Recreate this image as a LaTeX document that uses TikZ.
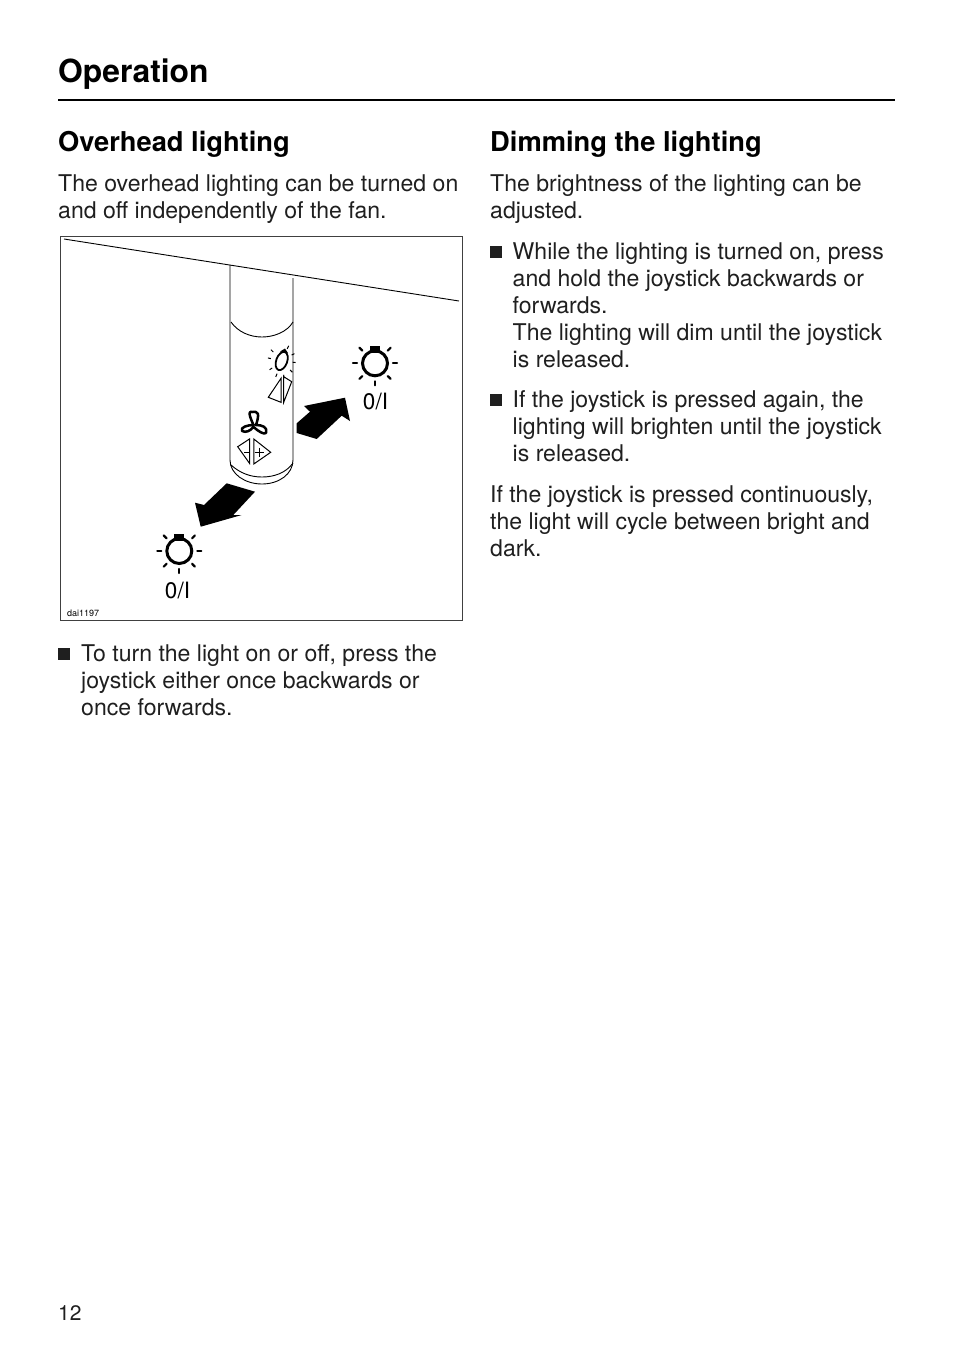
\documentclass[tikz,border=0pt]{standalone}
\usepackage{fontspec}
\setmainfont{TeX Gyre Heros}
\definecolor{mgrey}{rgb}{0.12, 0.12, 0.12}
\tikzset{
  bodytext/.style = {anchor = north west, inner sep = 0, align = left, text = mgrey,
    font = \fontsize{23.05}{27}\selectfont},
  subhead/.style = {anchor = base west, inner sep = 0, text = black,
    font = \fontsize{27.3}{30}\selectfont\bfseries},
  square/.style = {fill = mgrey, minimum size = 12.2, inner sep = 0, anchor = north west},
  thin line/.style = {line width = 0.9, black},
  icon line/.style = {line width = 1, black},
  ray/.style = {line width = 2.2, line cap = round, black},
  markfont/.style = {inner sep = 0, font = \fontsize{22.5}{23}\selectfont}
}
\newcommand{\lamp}[2]{
  \draw [line width = 3] (#1, #2) circle (12.5);
  \fill (#1 - 5, #2 - 17.5) rectangle (#1 + 5, #2 - 10.5);
  \foreach \ang in {0, 45, 90, 135, 180, 225, 315}
    \draw [ray] (#1 + 18 * cos \ang, #2 + 18 * sin \ang) -- (#1 + 22 * cos \ang, #2 + 22 * sin \ang);
}
\begin{document}
\begin{tikzpicture}[x = 1pt, y = -1pt]
    \useasboundingbox (0, 0) rectangle (954, 1352);

    \node [anchor = base west, inner sep = 0, font = \fontsize{31.8}{36}\selectfont\bfseries] (title) at (58, 82) {Operation};
    \draw [line width = 1.8] (58, 100) -- (895, 100);

    \node [subhead] (overhead) at (58, 151) {Overhead lighting};
    \node [subhead] (dimming) at (490, 151) {Dimming the lighting};

    \node [bodytext] (intro) at (58, 172.1) {\strut The overhead lighting can be turned on\\and off independently of the fan.};
    \node [bodytext] (turn) at (81, 642.1) {\strut To turn the light on or off, press the\\joystick either once backwards or\\once forwards.};
    \node [square] (sq0) at (57.8, 647.8) {};

    \node [bodytext] (bright) at (490, 172.1) {\strut The brightness of the lighting can be\\adjusted.};
    \node [bodytext] (hold) at (512.5, 240.1) {\strut While the lighting is turned on, press\\and hold the joystick backwards or\\forwards.\\The lighting will dim until the joystick\\is released.};
    \node [square] (sq1) at (489.8, 245.8) {};
    \node [bodytext] (again) at (512.5, 388.1) {\strut If the joystick is pressed again, the\\lighting will brighten until the joystick\\is released.};
    \node [square] (sq2) at (489.8, 393.8) {};
    \node [bodytext] (cycle) at (490, 483.1) {\strut If the joystick is pressed continuously,\\the light will cycle between bright and\\dark.};

    \node [anchor = base west, inner sep = 0, text = mgrey, font = \fontsize{21}{24}\selectfont] (page) at (58, 1320) {12};

    \draw [line width = 0.8, black!75] (60, 236.5) rectangle (462, 620.5);
    \draw [thin line] (64, 239) -- (459, 301);

    \draw [thin line] (230, 265) -- (230, 460) .. controls (230, 474) and (245, 484) .. (262, 484) .. controls (279, 484) and (293, 474) .. (293, 460) -- (293, 278);
    \draw [thin line] (231, 322) .. controls (238, 332) and (250, 337) .. (262, 337) .. controls (274, 337) and (287, 332) .. (293, 322);
    \draw [thin line] (231, 465) .. controls (240, 473) and (250, 477) .. (262, 477) .. controls (274, 477) and (286, 473) .. (293, 463);

    \draw [line width = 1.8, rotate around = {-20:(281.7, 361)}] (281.7, 361) ellipse (5.5 and 9.5);
    \fill (280, 351.5) -- (285, 348.5) -- (288, 353) -- cycle;
    \foreach \ang in {-60, -25, 5, 40, 80, 115, 150, 190, 220} {
      \draw [line width = 1] (281.7 + 11 * cos \ang, 361 + 14 * sin \ang) -- (281.7 + 14 * cos \ang, 361 + 17.5 * sin \ang);
    }
    \draw [icon line] (268.3, 397.3) -- (281, 378.3) -- (281, 402.3) -- cycle;
    \draw [icon line] (283.7, 376.7) -- (291.7, 381.7) -- (283.7, 402.3) -- cycle;

    \draw [line width = 2.5, line join = round] (253.5, 425)
      .. controls (248, 413) and (249, 411) .. (252, 412)
      .. controls (258, 411) and (260, 413) .. (256, 425)
      .. controls (262, 425) and (268, 427) .. (266, 433)
      .. controls (264, 435) and (258, 431) .. (253.5, 427)
      .. controls (250, 431) and (246, 433) .. (242, 431)
      .. controls (240, 427) and (248, 425) .. (253.5, 425) -- cycle;

    \draw [icon line] (237.7, 446.7) -- (249.5, 439) -- (249.5, 463.3) -- cycle;
    \draw [icon line] (253.8, 439) -- (270.7, 452.3) -- (253.8, 464) -- cycle;
    \draw [icon line] (244, 452) -- (249.5, 452);
    \draw [icon line] (254.5, 452.3) -- (264, 452.3) (259.3, 447.5) -- (259.3, 457);

    \fill (296.7, 423.3) -- (310, 411.7) -- (304, 406) -- (345, 397.7) -- (350, 421) -- (341.7, 415.7) -- (316.7, 439) -- (296.7, 433) -- cycle;
    \fill (226.7, 483.3) -- (255, 491.7) -- (233.3, 515) -- (241.7, 515) -- (200.7, 526.7) -- (195, 502.7) -- (204, 505) -- cycle;

    \lamp{375}{363.3}
    \lamp{179.3}{551}
    \node [markfont] (upper) at (375.5, 401.5) {0/I};
    \node [markfont] (lower) at (177.5, 590.5) {0/I};

    \node [anchor = base west, inner sep = 0, font = \fontsize{9}{9}\selectfont] (code) at (67, 616) {dai1197};
  \end{tikzpicture}
\end{document}
